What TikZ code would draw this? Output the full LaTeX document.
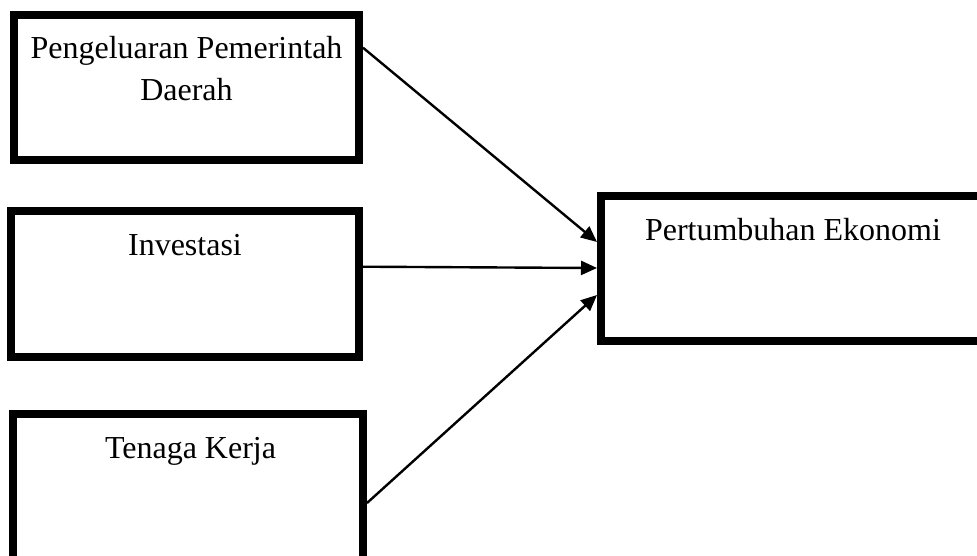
\documentclass[tikz,border=0pt]{standalone}
\usepackage{fontspec}
\setmainfont{Liberation Serif}
\usetikzlibrary{arrows.meta}
\begin{document}
\begin{tikzpicture}[x=1pt,y=-1pt,
  box/.style={draw=black,line width=8pt,rectangle,inner sep=0pt,fill=white},
  lbl/.style={font=\fontsize{32}{42}\selectfont,anchor=base,inner sep=0pt,align=center},
  conn/.style={line width=2.4pt,-{Triangle[length=16pt,width=14pt]}}]
\useasboundingbox (0,0) rectangle (977,555);
\clip (0,0) rectangle (977,555);
\node[box,minimum width=345.3pt,minimum height=145.3pt] (b1) at (186.35,87.35) {};
\node[box,minimum width=348.5pt,minimum height=145.7pt] (b2) at (184.75,283.85) {};
\node[box,minimum width=349.7pt,minimum height=186pt] (b3) at (188.15,507) {};
\node[box,minimum width=384pt,minimum height=145pt] (b4) at (793,268.5) {};
\node[lbl] (t1) at (186.5,100) {Pengeluaran Pemerintah\\Daerah};
\node[lbl] (t2) at (185,255) {Investasi};
\node[lbl] (t3) at (190.5,458) {Tenaga Kerja};
\node[lbl] (t4) at (793,240.7) {Pertumbuhan Ekonomi};
\draw[conn] ([yshift=-37pt]b1.north east) -- ([yshift=-50pt]b4.north west);
\draw[conn] ([yshift=-59.7pt]b2.north east) -- ([yshift=-76pt]b4.north west);
\draw[conn] ([yshift=-93pt]b3.north east) -- ([yshift=-103pt]b4.north west);
\end{tikzpicture}
\end{document}
